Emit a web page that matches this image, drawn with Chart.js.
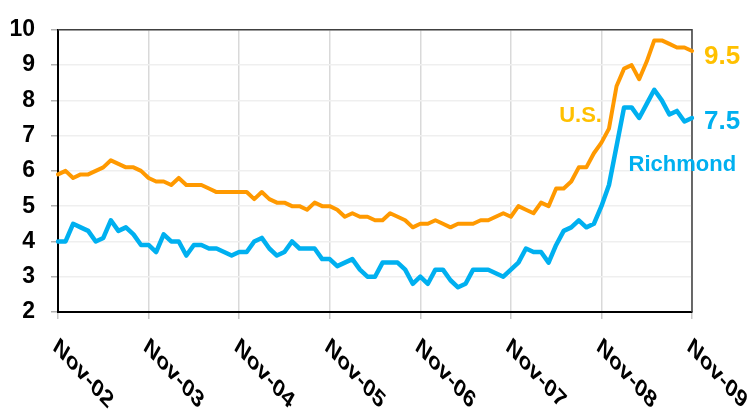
<!DOCTYPE html>
<html>
<head>
<meta charset="utf-8">
<script src="https://cdn.jsdelivr.net/npm/chart.js@4.4.0/dist/chart.umd.min.js"></script>
<style>
  html, body { margin: 0; padding: 0; background: #fff; }
  #wrap { width: 754px; height: 413px; }
</style>
</head>
<body>
<div id="wrap"><canvas id="myChart" width="754" height="413"></canvas></div>
<script>
const yearLabels = ['Nov-02', 'Nov-03', 'Nov-04', 'Nov-05', 'Nov-06', 'Nov-07', 'Nov-08', 'Nov-09'];
const monthNames = ['Nov', 'Dec', 'Jan', 'Feb', 'Mar', 'Apr', 'May', 'Jun', 'Jul', 'Aug', 'Sep', 'Oct'];

// monthly unemployment rate, Nov-02 .. Nov-09
const usRate = [
  5.9, 6.0, 5.8, 5.9, 5.9, 6.0, 6.1, 6.3, 6.2, 6.1, 6.1, 6.0,
  5.8, 5.7, 5.7, 5.6, 5.8, 5.6, 5.6, 5.6, 5.5, 5.4, 5.4, 5.4,
  5.4, 5.4, 5.2, 5.4, 5.2, 5.1, 5.1, 5.0, 5.0, 4.9, 5.1, 5.0,
  5.0, 4.9, 4.7, 4.8, 4.7, 4.7, 4.6, 4.6, 4.8, 4.7, 4.6, 4.4,
  4.5, 4.5, 4.6, 4.5, 4.4, 4.5, 4.5, 4.5, 4.6, 4.6, 4.7, 4.8,
  4.7, 5.0, 4.9, 4.8, 5.1, 5.0, 5.5, 5.5, 5.7, 6.1, 6.1, 6.5,
  6.8, 7.2, 8.4, 8.9, 9.0, 8.6, 9.1, 9.7, 9.7, 9.6, 9.5, 9.5,
  9.4
];
const richmondRate = [
  4.0, 4.0, 4.5, 4.4, 4.3, 4.0, 4.1, 4.6, 4.3, 4.4, 4.2, 3.9,
  3.9, 3.7, 4.2, 4.0, 4.0, 3.6, 3.9, 3.9, 3.8, 3.8, 3.7, 3.6,
  3.7, 3.7, 4.0, 4.1, 3.8, 3.6, 3.7, 4.0, 3.8, 3.8, 3.8, 3.5,
  3.5, 3.3, 3.4, 3.5, 3.2, 3.0, 3.0, 3.4, 3.4, 3.4, 3.2, 2.8,
  3.0, 2.8, 3.2, 3.2, 2.9, 2.7, 2.8, 3.2, 3.2, 3.2, 3.1, 3.0,
  3.2, 3.4, 3.8, 3.7, 3.7, 3.4, 3.9, 4.3, 4.4, 4.6, 4.4, 4.5,
  5.0, 5.6, 6.7, 7.8, 7.8, 7.5, 7.9, 8.3, 8.0, 7.6, 7.7, 7.4,
  7.5
];
const yMin = 2;
const yMax = 10;
const usEndLabel = '9.5';
const richmondEndLabel = '7.5';

const labels = [];
for (let i = 0; i < usRate.length; i++) {
  const yr = 2 + Math.floor((i + 10) / 12);
  labels.push(monthNames[i % 12] + '-' + String(yr).padStart(2, '0'));
}

const US_LINE = '#FF9900';
const US_TEXT = '#FFC000';
const RICH = '#00B0F0';
const FONT = 'Arial, "Liberation Sans", sans-serif';

// top + right frame of the plot area
const framePlugin = {
  id: 'frame',
  beforeDatasetsDraw(chart) {
    const { ctx, chartArea: a } = chart;
    ctx.save();
    ctx.strokeStyle = '#404040';
    ctx.lineWidth = 1.5;
    ctx.beginPath();
    ctx.moveTo(a.left, a.top);
    ctx.lineTo(a.right, a.top);
    ctx.lineTo(a.right, a.bottom);
    ctx.stroke();
    ctx.restore();
  },
};

// slanted year labels under the x axis
const yearLabelPlugin = {
  id: 'yearLabels',
  afterDraw(chart) {
    const { ctx, chartArea: a } = chart;
    const xs = chart.scales.x;
    ctx.save();
    ctx.fillStyle = '#000';
    ctx.font = 'bold 21px ' + FONT;
    ctx.textAlign = 'left';
    ctx.textBaseline = 'alphabetic';
    yearLabels.forEach((lab, k) => {
      const x = xs.getPixelForValue(k * 12);
      ctx.save();
      ctx.translate(x - 6, a.bottom + 37);
      ctx.transform(0.8, 0.86, -0.5, 0.88, 0, 0);
      ctx.fillText(lab, 0, 0);
      ctx.restore();
    });
    ctx.restore();
  },
};

// end values and series names
const seriesLabelPlugin = {
  id: 'seriesLabels',
  afterDraw(chart) {
    const { ctx, chartArea: a } = chart;
    const xs = chart.scales.x;
    const ys = chart.scales.y;
    ctx.save();
    ctx.textAlign = 'left';
    ctx.textBaseline = 'middle';
    ctx.font = 'bold 26px ' + FONT;
    ctx.fillStyle = US_TEXT;
    ctx.fillText(usEndLabel, a.right + 12, ys.getPixelForValue(9.23));
    ctx.fillStyle = RICH;
    ctx.fillText(richmondEndLabel, a.right + 12, ys.getPixelForValue(7.38));
    ctx.font = 'bold 22px ' + FONT;
    ctx.fillStyle = US_TEXT;
    ctx.fillText('U.S.', xs.getPixelForValue(66.4), ys.getPixelForValue(7.57));
    ctx.fillStyle = RICH;
    ctx.fillText('Richmond', xs.getPixelForValue(75.6), ys.getPixelForValue(6.17));
    ctx.restore();
  },
};

const ctx = document.getElementById('myChart').getContext('2d');

const chart = new Chart(ctx, {
  type: 'line',
  data: {
    labels: labels,
    datasets: [
      {
        label: 'U.S.',
        data: usRate,
        borderColor: US_LINE,
        backgroundColor: US_LINE,
        borderWidth: 4,
        fill: false,
      },
      {
        label: 'Richmond',
        data: richmondRate,
        borderColor: RICH,
        backgroundColor: RICH,
        borderWidth: 4.5,
        fill: false,
      },
    ],
  },
  options: {
    responsive: false,
    animation: false,
    layout: { padding: { left: 0, right: 62, top: 22, bottom: 0 } },
    plugins: {
      legend: { display: false },
      tooltip: { enabled: false },
    },
    elements: {
      point: { radius: 0 },
      line: { tension: 0, borderJoinStyle: 'round', borderCapStyle: 'round' },
    },
    scales: {
      x: {
        type: 'category',
        offset: false,
        ticks: { display: false, autoSkip: false },
        grid: {
          color: c => (c.index % 12 === 0 ? '#d9d9d9' : 'rgba(0,0,0,0)'),
          tickColor: c => (c.index % 12 === 0 ? '#c8c8c8' : 'rgba(0,0,0,0)'),
          tickLength: 7,
          lineWidth: 1.5,
        },
        border: { color: '#000', width: 2 },
        afterFit: s => {
          s.height = 101;
        },
      },
      y: {
        min: yMin,
        max: yMax,
        ticks: {
          stepSize: 1,
          padding: 16,
          color: '#000',
          font: { family: FONT, size: 23, weight: 'bold' },
        },
        grid: { color: '#efefef', tickColor: '#b0b0b0', tickLength: 7, lineWidth: 1.5 },
        border: { color: '#000', width: 2 },
        afterFit: s => {
          s.width = 58;
        },
      },
    },
  },
  plugins: [framePlugin, yearLabelPlugin, seriesLabelPlugin],
});
</script>
</body>
</html>
